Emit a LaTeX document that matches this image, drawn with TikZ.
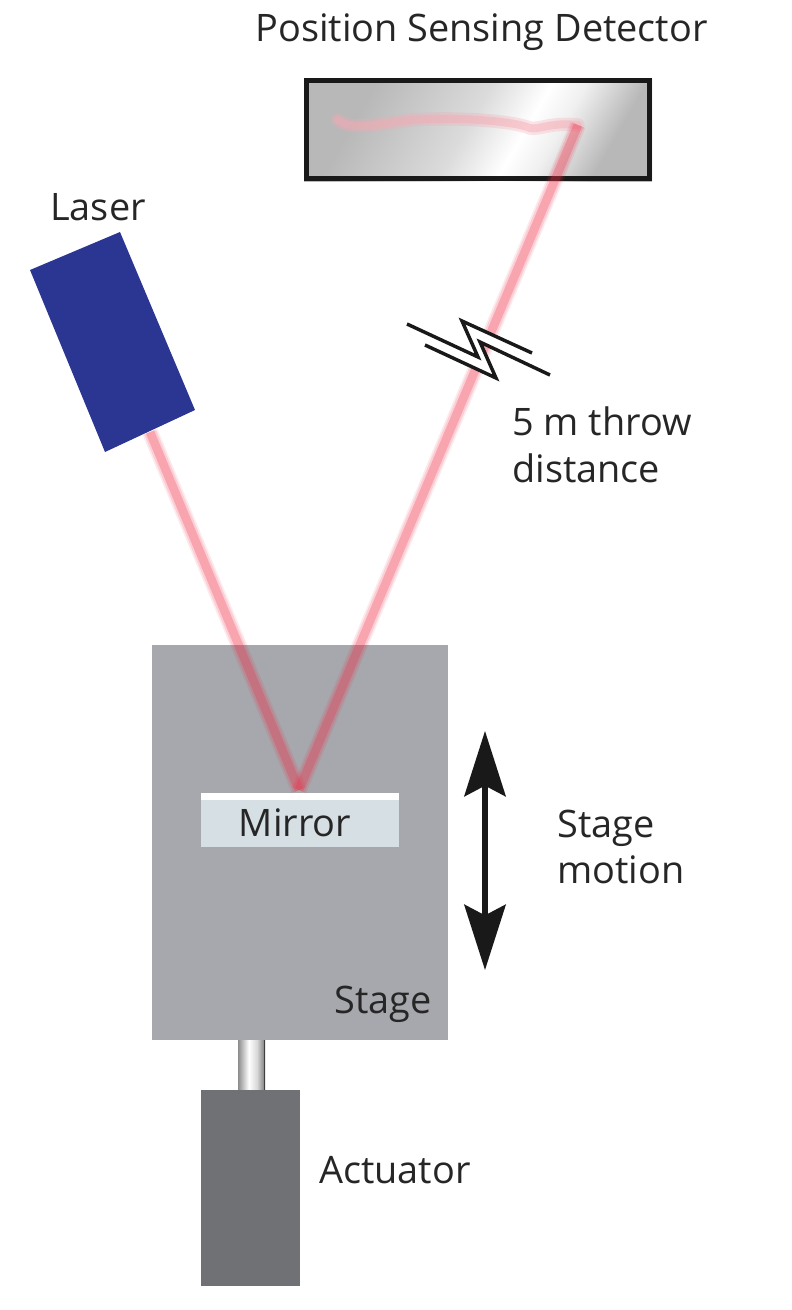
\documentclass[tikz,border=0pt]{standalone}
\usepackage{fontspec}
\setmainfont{Open Sans}
\usetikzlibrary{arrows.meta}
\definecolor{laserblue}{RGB}{43,54,146}
\definecolor{stagegray}{RGB}{167,168,173}
\definecolor{actgray}{RGB}{112,113,117}
\definecolor{mirrorblue}{RGB}{213,223,228}
\definecolor{beamred}{RGB}{238,45,70}
\definecolor{scribpink}{RGB}{245,170,180}
\pgfdeclarehorizontalshading{detshade}{100bp}{color(0bp)=(black!28);color(28bp)=(black!28);color(48bp)=(black!14);color(58bp)=(white);color(64bp)=(black!6);color(74bp)=(black!28);color(100bp)=(black!28)}
\pgfdeclarehorizontalshading{rodshade}{100bp}{color(0bp)=(black!45);color(25bp)=(black!45);color(45bp)=(white);color(60bp)=(black!15);color(72bp)=(black!45);color(73bp)=(black!75);color(75bp)=(black!75);color(100bp)=(black!75)}
\tikzset{
  lbl/.style={inner sep=0pt,align=left,font=\fontsize{28.4pt}{35pt}\selectfont,text=black!85},
  beamwide/.style={draw=beamred,line width=12pt,opacity=.1},
  beammid/.style={draw=beamred,line width=9.5pt,opacity=.14},
  beamcore/.style={draw=beamred,line width=6.5pt,opacity=.26},
  scribwide/.style={draw=scribpink,line width=10pt,opacity=.3,line cap=round},
  scribcore/.style={draw=scribpink,line width=6pt,opacity=.45,line cap=round},
  breakline/.style={draw=black!90,line width=2.6pt,line join=miter},
  motion/.style={line width=3.8pt,black!90,{Stealth[length=49pt,width=31pt,inset=8pt]}-{Stealth[length=49pt,width=31pt,inset=8pt]}}
}
\begin{document}
\begin{tikzpicture}[x=.75pt,y=-.75pt]
  \useasboundingbox (0,0) rectangle (792,1310);

  % stage and actuator
  \fill[stagegray] (152,645) rectangle (448,1040);
  \shade[shading=rodshade] (238,1040) rectangle (265,1090);
  \fill[actgray] (201,1090) rectangle (300,1286);

  % detector
  \shade[shading=detshade,shading angle=-30] (304,78) rectangle (652,181);
  \draw[black!90,line width=3.8pt] (306.5,80.5) rectangle (649.5,178.5);

  % beam
  \coordinate (laserout) at (150,432);
  \coordinate (hit) at (299,790);
  \coordinate (spot) at (578,125);
  \draw[scribwide] (338,120) .. controls (350,130) and (375,125) .. (410,120)
    .. controls (450,117) and (510,120) .. (530,128) .. controls (540,130) and (550,122) .. (spot);
  \draw[scribcore] (338,120) .. controls (350,130) and (375,125) .. (410,120)
    .. controls (450,117) and (510,120) .. (530,128) .. controls (540,130) and (550,122) .. (spot);
  \foreach \b in {beamwide,beammid,beamcore}{
    \draw[\b] (laserout) -- (hit);
    \draw[\b] (hit) -- (spot);
  }

  % laser
  \fill[laserblue] (30,270) -- (120,232) -- (195,410) -- (105,452) -- cycle;

  % mirror
  \fill[mirrorblue] (201,793) rectangle (399,847);
  \fill[white] (201,793) rectangle (399,800);
  \node[lbl] (mirror) at (295,823) {Mirror};

  % break mark
  \coordinate (ba) at (407,324);
  \coordinate (bb) at (478,357);
  \coordinate (bc) at (462,321);
  \coordinate (bd) at (532,353);
  \coordinate (be) at (425,345);
  \coordinate (bf) at (496,378);
  \coordinate (bg) at (480,342);
  \coordinate (bh) at (550,375);
  \fill[white] (ba) -- (bb) -- (bc) -- (bd) -- (bh) -- (bg) -- (bf) -- (be) -- cycle;
  \draw[breakline] (ba) -- (bb) -- (bc) -- (bd);
  \draw[breakline] (be) -- (bf) -- (bg) -- (bh);

  % stage motion
  \coordinate (mtop) at (485,731);
  \coordinate (mbot) at (485,970);
  \draw[motion] (mtop) -- (mbot);

  % labels
  \node[lbl,anchor=center] (psd) at (481.5,32) {Position Sensing Detector};
  \node[lbl,anchor=west] (laser) at (50,207) {Laser};
  \node[lbl,anchor=west] (throw) at (512,445) {5 m throw\\distance};
  \node[lbl,anchor=west] (smotion) at (557,847) {Stage\\motion};
  \node[lbl,anchor=east] (stage) at (432,1004) {Stage};
  \node[lbl,anchor=west] (act) at (319,1170) {Actuator};
\end{tikzpicture}
\end{document}
